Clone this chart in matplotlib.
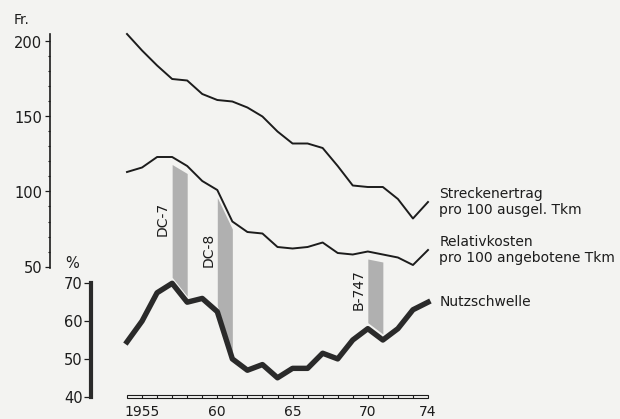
import matplotlib
matplotlib.use("Agg")
import matplotlib.pyplot as plt
import numpy as np
from matplotlib.patches import Rectangle

years = list(range(1954, 1975))
ertrag = [205, 194, 184, 175, 174, 165, 161, 160, 156, 150, 140,
          132, 132, 129, 117, 104, 103, 103, 95, 82, 93]
kosten = [113, 116, 123, 123, 117, 107, 101, 80, 73, 72, 63,
          62, 63, 66, 59, 58, 60, 58, 56, 51, 61]
nutz = [54.5, 60, 67.5, 70, 65, 66, 62.5, 50, 47, 48.5, 45,
        47.5, 47.5, 51.5, 50, 55, 58, 55, 58, 63, 65]

aircraft = ["DC-7", "DC-8", "B-747"]
aircraft_year = [1957, 1960, 1970]

year_ticks = [1955, 1960, 1965, 1970, 1974]
year_labels = ["1955", "60", "65", "70", "74"]
fr_ticks = [50, 100, 150, 200]
pct_ticks = [40, 50, 60, 70]

series_labels = ["Streckenertrag\npro 100 ausgel. Tkm",
                 "Relativkosten\npro 100 angebotene Tkm",
                 "Nutzschwelle"]


# the % scale sits below the Fr. scale on the same drawing
def pct_to_fr(p):
    return 38.8 + 2.52 * (np.asarray(p, dtype=float) - 70)


def fr_to_pct(f):
    return 70 + (np.asarray(f, dtype=float) - 38.8) / 2.52


BG = "#f3f3f1"
INK = "#1c1c1c"
plt.rcParams["font.family"] = ["DejaVu Sans"]

fig = plt.figure(figsize=(6.2, 4.19), dpi=100, facecolor=BG)
ax = fig.add_axes([50 / 620, 19 / 419, 570 / 620, 375 / 419])
ax.set_facecolor(BG)
ax.set_xlim(1948.884, 1986.757)
ax.set_ylim(-39, 211)

yrs = np.array(years, dtype=float)
nutz_fr = pct_to_fr(nutz)

# aircraft introduction bands
gap_top, gap_bot = 5, 4
for name, y0 in zip(aircraft, aircraft_year):
    xs = np.array([y0, y0 + 1], dtype=float)
    top = np.interp(xs, yrs, kosten) - gap_top
    bot = np.interp(xs, yrs, nutz_fr) + gap_bot
    ax.fill_between(xs, bot, top, color="#b0b0b0", lw=0, zorder=1)
    ax.text(y0 - 0.6, (top[0] + bot[0]) / 2 + 1, name, rotation=90,
            ha="center", va="center", fontsize=10, color=INK)

ax.plot(yrs, ertrag, color=INK, lw=1.4, zorder=3)
ax.plot(yrs, kosten, color=INK, lw=1.4, zorder=3)
ax.plot(yrs, nutz_fr, color="#2a2a2a", lw=3.9, zorder=3)

# series labels at the right end of each line
xl = years[-1] + 0.75
ends = [ertrag[-1], kosten[-1], nutz_fr[-1]]
for lab, yv in zip(series_labels, ends):
    ax.text(xl, yv, lab, ha="left", va="center", fontsize=10,
            color=INK, linespacing=1.15)

# year ruler along the bottom
r_lo, r_hi = pct_to_fr(39.55), pct_to_fr(40.45)
ax.add_patch(Rectangle((years[0], r_lo), years[-1] - years[0], r_hi - r_lo,
                       facecolor=BG, edgecolor=INK, lw=0.8, zorder=2))
ax.vlines(yrs[1:-1], r_lo, r_hi, color=INK, lw=0.8, zorder=2)
for yv, lab in zip(year_ticks, year_labels):
    ax.text(yv, pct_to_fr(35.9), lab, ha="center", va="center",
            fontsize=10, color=INK)

# Fr. axis
for s in ["top", "right", "bottom"]:
    ax.spines[s].set_visible(False)
ax.spines["left"].set_bounds(49, 205)
ax.spines["left"].set_linewidth(1.2)
ax.spines["left"].set_color(INK)
ax.set_xticks([])
ax.set_yticks(fr_ticks)
ax.set_yticks(np.arange(50, 201, 10), minor=True)
ax.tick_params(axis="y", which="major", length=3.8, width=0.9,
               labelsize=10.5, pad=2, colors=INK)
ax.tick_params(axis="y", which="minor", length=1.8, width=0.8, colors=INK)

# % axis
sec = ax.secondary_yaxis(41 / 570, functions=(fr_to_pct, pct_to_fr))
sec.set_yticks(pct_ticks)
sec.spines["left"].set_bounds(40, 70)
sec.spines["left"].set_linewidth(3)
sec.spines["left"].set_color("#2a2a2a")
sec.tick_params(axis="y", length=5, width=0.9, labelsize=10.5, pad=1,
                colors=INK)

fig.text(21.7 / 620, 1 - 20 / 419, "Fr.", ha="center", va="center",
         fontsize=10, color=INK)
fig.text(71.7 / 620, 1 - 263 / 419, "%", ha="center", va="center",
         fontsize=10.5, color=INK)

fig.savefig("out.png", dpi=100, facecolor=BG)
